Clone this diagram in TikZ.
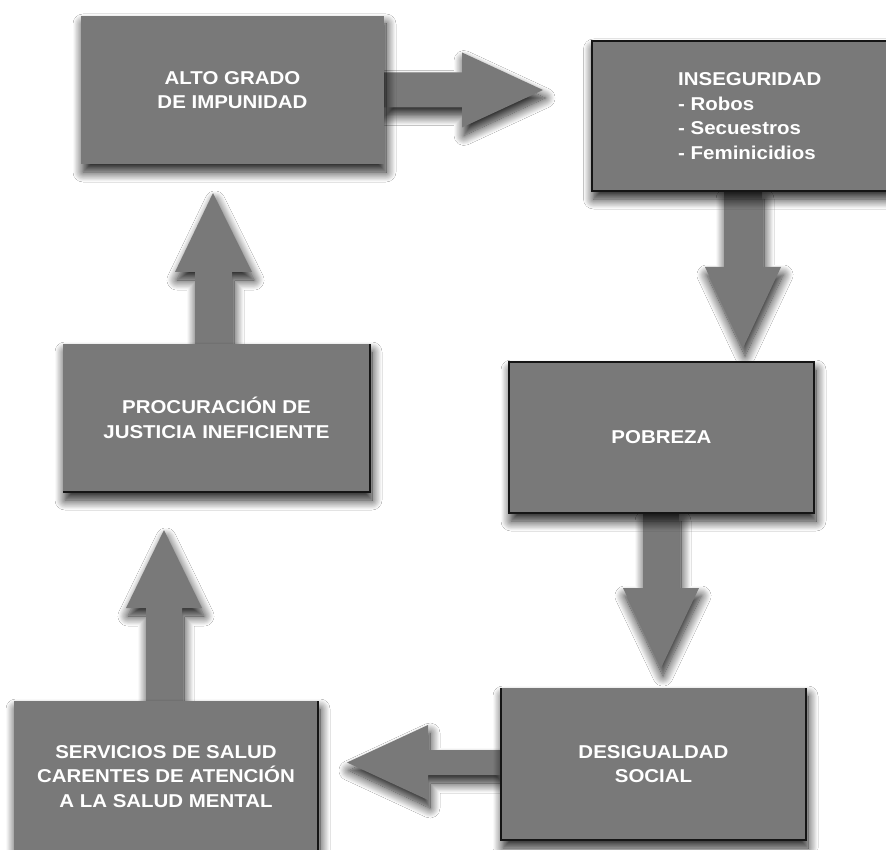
\documentclass[tikz,border=0pt]{standalone}
\usepackage{fontspec}
\setmainfont{Liberation Sans}[FakeStretch=1.1]
\usetikzlibrary{shadows.blur}
\definecolor{boxgray}{HTML}{797979}
\definecolor{edgedark}{HTML}{151515}
\tikzset{
  softshade/.style={blur shadow={shadow xshift=2pt, shadow yshift=-8pt, shadow blur radius=10pt, shadow blur steps=16, shadow opacity=90}},
  box/.style={fill=boxgray, inner sep=0pt, outer sep=0pt, text=white,
    font=\fontsize{18.6}{24.5}\selectfont\bfseries, align=center, softshade},
  boxtext/.style={inner sep=0pt, text=white, font=\fontsize{18.6}{24.5}\selectfont\bfseries},
  barrow/.style={fill=boxgray, softshade},
  darkedge/.style={draw=edgedark, line width=2pt},
}
\begin{document}
\begin{tikzpicture}[x=1pt, y=-1pt]
\useasboundingbox (0,0) rectangle (886,850);
\fill[white] (0,0) rectangle (886,850);

% block arrows
\path[barrow] (384,72.5) -- (462,72.5) -- (462,52.5) -- (543,90) -- (462,127.5) -- (462,107.5) -- (384,107.5) -- cycle;
\path[barrow] (724,191) -- (724,267) -- (705,267) -- (743,348) -- (781,267) -- (762,267) -- (762,191) -- cycle;
\path[barrow] (643,513) -- (643,588) -- (623,588) -- (661,668) -- (699,588) -- (679,588) -- (679,513) -- cycle;
\path[barrow] (501,750) -- (428,750) -- (428,725) -- (347,762.5) -- (428,800) -- (428,775) -- (501,775) -- cycle;
\path[barrow] (146,701) -- (146,608) -- (126,608) -- (164,530) -- (202,608) -- (182,608) -- (182,701) -- cycle;
\path[barrow] (195,344) -- (195,272) -- (175,272) -- (213,193) -- (252,272) -- (232,272) -- (232,344) -- cycle;

% boxes
\node[box, minimum width=303pt, minimum height=148pt] (b1) at (232.5,90) {ALTO GRADO\\DE IMPUNIDAD};
\node[box, darkedge, minimum width=303pt, minimum height=150pt] (b2) at (743,116) {};
\node[boxtext, anchor=west, align=left] (t2) at (678,116) {INSEGURIDAD\\- Robos\\- Secuestros\\- Feminicidios};
\node[box, darkedge, minimum width=305pt, minimum height=151pt] (b3) at (661.5,437.5) {POBREZA};
\node[box, minimum width=305pt, minimum height=152pt] (b4) at (653.5,764) {DESIGUALDAD\\SOCIAL};
\node[box, minimum width=304pt, minimum height=151pt] (b5) at (166,776.5) {SERVICIOS DE SALUD\\CARENTES DE ATENCIÓN\\A LA SALUD MENTAL};
\node[box, minimum width=307pt, minimum height=148pt] (b6) at (216.5,418) {PROCURACIÓN DE\\JUSTICIA INEFICIENTE};

% partial dark edges
\draw[edgedark, line width=1.6pt] (b4.north west) -- (b4.south west) -- (b4.south east) -- (b4.north east);
\draw[edgedark, line width=1.6pt] (b5.north east) -- (b5.south east);
\draw[edgedark, line width=1.6pt] (b6.north east) -- (b6.south east) -- (b6.south west);
\end{tikzpicture}
\end{document}
